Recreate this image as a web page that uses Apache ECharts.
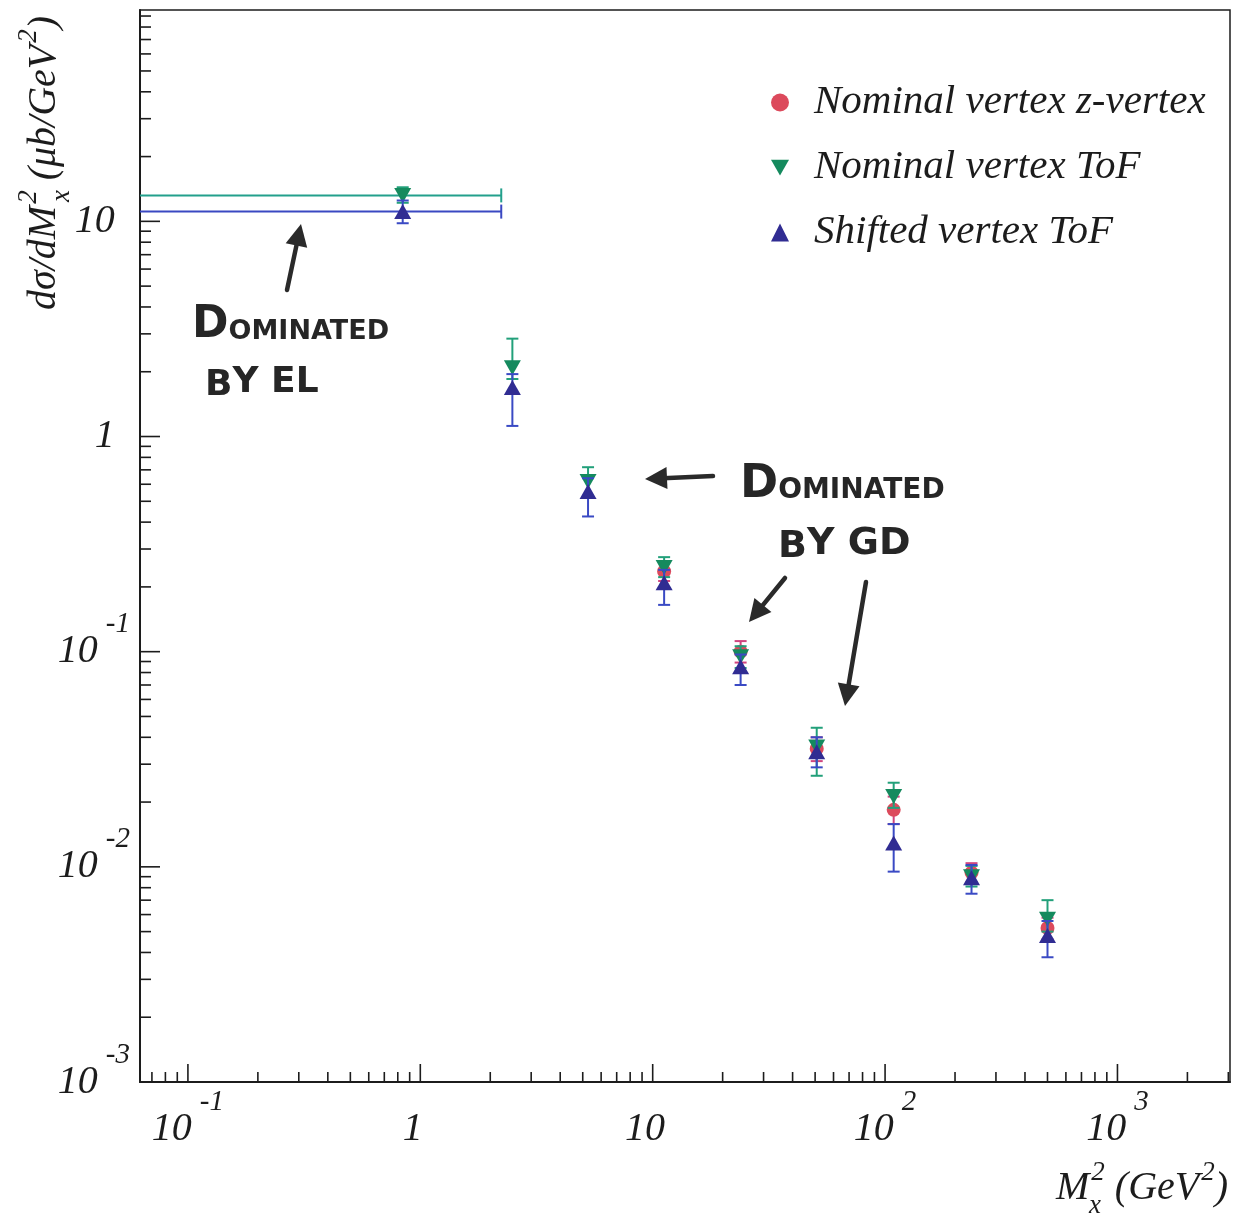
<!DOCTYPE html>
<html><head><meta charset="utf-8">
<script src="https://cdn.jsdelivr.net/npm/echarts@6/dist/echarts.min.js"></script>
<style>html,body{margin:0;padding:0;background:#fff}#c{width:1244px;height:1217px}</style>
</head><body><div id="c"></div>
<script>
// ---- data ----
const M2x = [0.84, 2.49, 5.27, 11.2, 23.9, 50.8, 108.9, 235.5, 500];
const firstBinHigh = 2.23;          // right edge of the first (wide) bin
const zvtxVal  = [null, null, null, 0.236, 0.100, 0.0354, 0.0184, 0.0094, 0.0052];
const zvtxLow  = [null, null, null, 0.213, 0.089, 0.031, 0.0158, 0.0085, 0.0046];
const zvtxHigh = [null, null, null, 0.262, 0.112, 0.040, 0.0212, 0.0104, 0.0058];
const tofVal   = [13.2, 2.09, 0.618, 0.246, 0.0948, 0.0361, 0.0212, 0.0090, 0.0057];
const tofLow   = [12.2, 1.85, 0.53, 0.222, 0.084, 0.0265, 0.0188, 0.0081, 0.0050];
const tofHigh  = [14.4, 2.85, 0.72, 0.275, 0.106, 0.0443, 0.0246, 0.0101, 0.0070];
const shiftVal  = [11.1, 1.69, 0.555, 0.209, 0.0852, 0.0343, 0.0129, 0.0089, 0.0048];
const shiftLow  = [9.8, 1.12, 0.425, 0.165, 0.070, 0.029, 0.0095, 0.0075, 0.0038];
const shiftHigh = [12.5, 1.95, 0.64, 0.24, 0.097, 0.040, 0.0158, 0.0102, 0.0056];
const xTickExp = [-1, 0, 1, 2, 3];
const xTickLabels = [['10','-1'], ['1',''], ['10',''], ['10','2'], ['10','3']];
const yTickExp = [-3, -2, -1, 0, 1];
const yTickLabels = [['10','-3'], ['10','-2'], ['10','-1'], ['1',''], ['10','']];
const seriesNames = ['Nominal vertex z-vertex', 'Nominal vertex ToF', 'Shifted vertex ToF'];
const xMin = 0.0622, xMax = 3050, yMin = 0.001, yMax = 96;

const FONT = 'Liberation Serif';
const INK = '#1c1c1c';
const C_RED = '#dc4a5c', C_RED_ERR = '#d0457e';
const C_GRN = '#158a5e', C_GRN_ERR = '#22a07a';
const C_BLU = '#302c92', C_BLU_ERR = '#3a4ac4';
const DOWN_TRI = 'path://M0,0L16,0L8,14Z';

function labelFmt(exps, labels) {
  return function (v) {
    const l = Math.log10(v), e = Math.round(l);
    if (Math.abs(l - e) > 1e-6) return '';
    const i = exps.indexOf(e);
    if (i < 0) return '';
    return '{b|' + labels[i][0] + '}{s|' + (labels[i][1] || ' ') + '}';
  };
}
const tickRich = {
  b: {fontFamily: FONT, fontStyle: 'italic', fontSize: 40, color: INK},
  s: {fontFamily: FONT, fontStyle: 'italic', fontSize: 29, color: INK, padding: [0, 0, 54, 8]}
};

// tick marks (log minor/major), drawn through the axis scales
const tickData = [];
for (let e = -2; e <= 3; e++) for (let m = 1; m <= 9; m++) {
  const v = m * Math.pow(10, e);
  if (v > xMin && v < xMax) tickData.push([v, yMin, m === 1 ? 1 : 0]);
}
for (let e = -3; e <= 1; e++) for (let m = 1; m <= 9; m++) {
  const v = m * Math.pow(10, e);
  if (v > yMin && v < yMax) tickData.push([xMin, v, m === 1 ? 3 : 2]);
}

function errData(vals, lo, hi, withBin) {
  const out = [];
  vals.forEach((v, i) => {
    if (v == null) return;
    out.push([M2x[i], v, lo[i], hi[i], (withBin && i === 0) ? firstBinHigh : '-']);
  });
  return out;
}
function ptData(vals) {
  const out = [];
  vals.forEach((v, i) => { if (v != null) out.push([M2x[i], v]); });
  return out;
}
function errRender(color, binColor) {
  return function (params, api) {
    const cs = params.coordSys;
    const x = api.value(0), y = api.value(1), lo = api.value(2), hi = api.value(3), xh = api.value(4);
    const p = api.coord([x, y]), pl = api.coord([x, lo]), ph = api.coord([x, hi]);
    const st = {stroke: color, lineWidth: 2};
    const cw = 6;
    const ch = [
      {type: 'line', shape: {x1: p[0], y1: pl[1], x2: p[0], y2: ph[1]}, style: st},
      {type: 'line', shape: {x1: p[0] - cw, y1: pl[1], x2: p[0] + cw, y2: pl[1]}, style: st},
      {type: 'line', shape: {x1: p[0] - cw, y1: ph[1], x2: p[0] + cw, y2: ph[1]}, style: st}
    ];
    if (!isNaN(xh) && xh > 0) {
      const pr = api.coord([xh, y]);
      const bs = {stroke: binColor, lineWidth: 2};
      ch.push({type: 'line', shape: {x1: cs.x, y1: p[1], x2: pr[0], y2: p[1]}, style: bs});
      ch.push({type: 'line', shape: {x1: pr[0], y1: p[1] - 7, x2: pr[0], y2: p[1] + 7}, style: bs});
    }
    return {type: 'group', children: ch};
  };
}

function arrow(x1, y1, x2, y2) {
  const dx = x2 - x1, dy = y2 - y1, L = Math.hypot(dx, dy), ux = dx / L, uy = dy / L;
  const hl = 22, hw = 11, bx = x2 - ux * hl, by = y2 - uy * hl;
  return [
    {type: 'line', shape: {x1: x1, y1: y1, x2: bx + ux * 4, y2: by + uy * 4}, style: {stroke: '#2a2a2a', lineWidth: 4.5, lineCap: 'round'}},
    {type: 'polygon', shape: {points: [[x2, y2], [bx - uy * hw, by + ux * hw], [bx + uy * hw, by - ux * hw]]}, style: {fill: '#2a2a2a'}}
  ];
}
const HAND = {fontFamily: 'DejaVu Sans', fontWeight: 'bold', fill: '#262626'};
function handText(x, y, big, rest, bigSize, restSize) {
  return {type: 'text', x: x, y: y, style: {
    text: '{D|' + big + '}{r|' + rest + '}', verticalAlign: 'middle',
    rich: {
      D: Object.assign({fontSize: bigSize, verticalAlign: 'bottom'}, HAND),
      r: Object.assign({fontSize: restSize, verticalAlign: 'bottom', padding: [0, 0, 3, 0]}, HAND)
    }}};
}
const titleRich = {
  t: {fontFamily: FONT, fontStyle: 'italic', fontSize: 40, fill: INK},
  s: {fontFamily: FONT, fontStyle: 'italic', fontSize: 27, fill: INK, padding: [0, 0, 30, 2]}
};

const chart = echarts.init(document.getElementById('c'));
chart.setOption({
  backgroundColor: '#fff',
  animation: false,
  grid: {left: 140, right: 14, top: 10, bottom: 135, show: true, borderColor: INK, borderWidth: 1.5},
  legend: {
    orient: 'vertical', left: 766, top: 77, itemGap: 24, itemWidth: 18, itemHeight: 18,
    textStyle: {fontFamily: FONT, fontStyle: 'italic', fontSize: 41, color: INK, lineHeight: 41, padding: [0, 0, 0, 20]},
    data: [
      {name: seriesNames[0], icon: 'circle', itemStyle: {color: C_RED}},
      {name: seriesNames[1], icon: DOWN_TRI, itemStyle: {color: C_GRN}},
      {name: seriesNames[2], icon: 'triangle', itemStyle: {color: C_BLU}}
    ]
  },
  xAxis: {
    type: 'log', logBase: 10, min: xMin, max: xMax,
    axisLine: {show: true, lineStyle: {color: INK, width: 2}},
    axisTick: {show: false}, splitLine: {show: false}, minorTick: {show: false},
    axisLabel: {formatter: labelFmt(xTickExp, xTickLabels), rich: tickRich, margin: 6, showMinLabel: true, showMaxLabel: true}
  },
  yAxis: {
    type: 'log', logBase: 10, min: yMin, max: yMax,
    axisLine: {show: true, lineStyle: {color: INK, width: 2}},
    axisTick: {show: false}, splitLine: {show: false},
    axisLabel: {formatter: labelFmt(yTickExp, yTickLabels), rich: tickRich, margin: 10, showMinLabel: true, showMaxLabel: true}
  },
  graphic: [
    {type: 'text', x: 44, y: 310, rotation: Math.PI / 2, style: {
      text: '{t|dσ/dM}{s|2}{t| (μb/GeV}{s|2}{t|)}', align: 'left', verticalAlign: 'middle', rich: titleRich}},
    {type: 'text', x: 62, y: 196, rotation: Math.PI / 2, style: {text: 'x', fontFamily: FONT, fontStyle: 'italic', fontSize: 27, fill: INK, align: 'center', verticalAlign: 'middle'}},
    {type: 'text', x: 1056, y: 1188, style: {
      text: '{t|M}{s|2}{t| (GeV}{s|2}{t|)}', align: 'left', verticalAlign: 'middle', rich: titleRich}},
    {type: 'text', x: 1095, y: 1206, style: {text: 'x', fontFamily: FONT, fontStyle: 'italic', fontSize: 27, fill: INK, align: 'center', verticalAlign: 'middle'}},
    handText(192, 326, 'D', 'OMINATED', 44, 27),
    handText(205, 384, 'B', 'Y EL', 36, 36),
    handText(740, 485, 'D', 'OMINATED', 46, 28),
    handText(778, 546, 'B', 'Y GD', 38, 38)
  ].concat(arrow(287, 290, 301, 224), arrow(713, 476, 645, 479), arrow(785, 578, 749, 622), arrow(866, 582, 845, 706)),
  series: [
    {type: 'custom', name: 'ticks', silent: true, data: tickData, z: 1,
     renderItem: function (params, api) {
       const cs = params.coordSys, k = api.value(2);
       const p = api.coord([api.value(0), api.value(1)]);
       const st = {stroke: INK, lineWidth: 1.6};
       if (k < 2) {
         const yb = cs.y + cs.height, len = k === 1 ? 18 : 10;
         return {type: 'line', shape: {x1: p[0], y1: yb, x2: p[0], y2: yb - len}, style: st};
       }
       const len = k === 3 ? 20 : 11;
       return {type: 'line', shape: {x1: cs.x, y1: p[1], x2: cs.x + len, y2: p[1]}, style: st};
     }},
    {type: 'custom', name: seriesNames[0] + ' err', data: errData(zvtxVal, zvtxLow, zvtxHigh, false), renderItem: errRender(C_RED_ERR, C_RED_ERR), z: 2},
    {type: 'scatter', name: seriesNames[0], data: ptData(zvtxVal), symbol: 'circle', symbolSize: 14, itemStyle: {color: C_RED, opacity: 1}, z: 3},
    {type: 'custom', name: seriesNames[1] + ' err', data: errData(tofVal, tofLow, tofHigh, true), renderItem: errRender(C_GRN_ERR, '#23a08c'), z: 4},
    {type: 'scatter', name: seriesNames[1], data: ptData(tofVal), symbol: DOWN_TRI, symbolSize: [17, 15], itemStyle: {color: C_GRN, opacity: 1}, z: 5},
    {type: 'custom', name: seriesNames[2] + ' err', data: errData(shiftVal, shiftLow, shiftHigh, true), renderItem: errRender(C_BLU_ERR, '#3a48c2'), z: 6},
    {type: 'scatter', name: seriesNames[2], data: ptData(shiftVal), symbol: 'triangle', symbolSize: [17, 15], itemStyle: {color: C_BLU, opacity: 1}, z: 7}
  ]
});
</script></body></html>
